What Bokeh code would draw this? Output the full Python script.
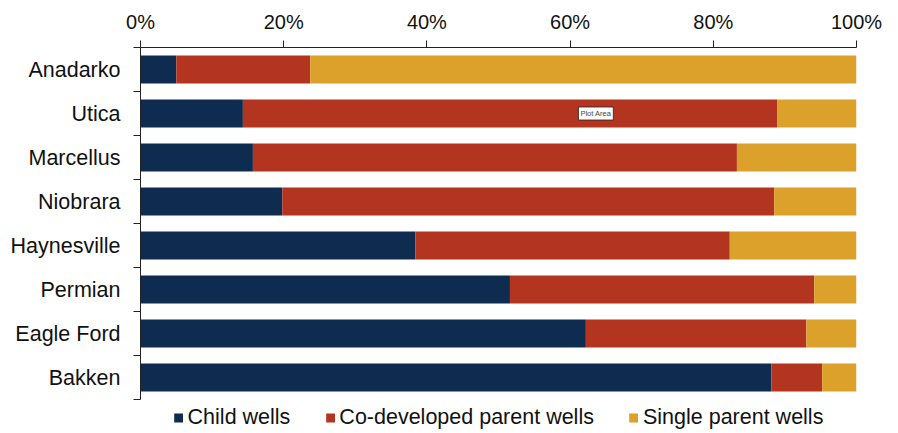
from bokeh.plotting import figure
from bokeh.models import (Range1d, FixedTicker, PrintfTickFormatter, Legend,
                          ColumnDataSource, Label)
from bokeh.embed import file_html
from bokeh.resources import INLINE

# Share of wells by type in each basin (percent of total)
basins = ["Anadarko", "Utica", "Marcellus", "Niobrara", "Haynesville",
          "Permian", "Eagle Ford", "Bakken"]
child_wells = [5.0, 14.3, 15.7, 19.8, 38.4, 51.6, 62.2, 88.1]
codeveloped_parent = [18.7, 74.6, 67.6, 68.7, 43.9, 42.5, 30.8, 7.1]
single_parent = [76.3, 11.1, 16.7, 11.5, 17.7, 5.9, 7.0, 4.8]
x_ticks = [0, 20, 40, 60, 80, 100]

series = ["child", "codev", "single"]
series_names = ["Child wells", "Co-developed parent wells", "Single parent wells"]
colors = ["#0e2c50", "#b3341f", "#dba12a"]

FONT = "Liberation Sans"
n = len(basins)
centers = [n - 1 - i + 0.5 for i in range(n)]

source = ColumnDataSource(dict(y=centers, child=child_wells,
                               codev=codeveloped_parent, single=single_parent))

p = figure(frame_width=716, frame_height=352, output_backend="svg",
           toolbar_location=None,
           x_range=Range1d(0, 100), y_range=Range1d(0, n),
           x_axis_location="above",
           min_border_left=140, min_border_right=42, min_border_top=47,
           min_border_bottom=0)
p.outline_line_color = None
p.xgrid.visible = False
p.ygrid.visible = False
p.background_fill_color = "white"
p.border_fill_color = "white"

renderers = p.hbar_stack(series, y="y", height=0.64, color=colors,
                         source=source, line_color=None)

# top percentage axis
xa = p.xaxis[0]
xa.ticker = FixedTicker(ticks=x_ticks)
xa.formatter = PrintfTickFormatter(format="%d%%")
xa.major_label_text_font = FONT
xa.major_label_text_font_size = "20px"
xa.major_label_text_color = "#111111"
xa.axis_line_color = "#222222"
xa.major_tick_line_color = "#222222"
xa.major_tick_out = 7
xa.major_tick_in = 0
xa.minor_tick_line_color = None
xa.major_label_standoff = 8

# basin axis: labels at bar centres, ticks at the category boundaries
ya = p.yaxis[0]
ya.ticker = FixedTicker(ticks=centers, minor_ticks=list(range(n + 1)))
ya.major_label_overrides = {c: b for c, b in zip(centers, basins)}
ya.major_label_text_font = FONT
ya.major_label_text_font_size = "21.5px"
ya.major_label_text_color = "#111111"
ya.axis_line_color = "#222222"
ya.major_tick_line_color = None
ya.major_tick_out = 0
ya.major_tick_in = 0
ya.minor_tick_line_color = "#222222"
ya.minor_tick_out = 7
ya.minor_tick_in = 0
ya.major_label_standoff = 13

legend = Legend(items=[(name, [r]) for name, r in zip(series_names, renderers)],
                orientation="horizontal", location="top_center",
                label_text_font=FONT, label_text_font_size="21.5px",
                label_text_color="#111111", label_height=22,
                glyph_width=11, glyph_height=11, label_standoff=4,
                spacing=34, padding=0, margin=6,
                border_line_color=None, background_fill_alpha=0)
p.add_layout(legend, "below")

tag = Label(x=63.6, y=centers[1], text="Plot Area", text_font=FONT,
            text_font_size="7.5px", text_align="center", text_baseline="middle",
            background_fill_color="white", border_line_color="#222222",
            border_line_width=0.8, padding=2)
p.add_layout(tag)

open("out.html", "w").write(file_html(p, INLINE))
